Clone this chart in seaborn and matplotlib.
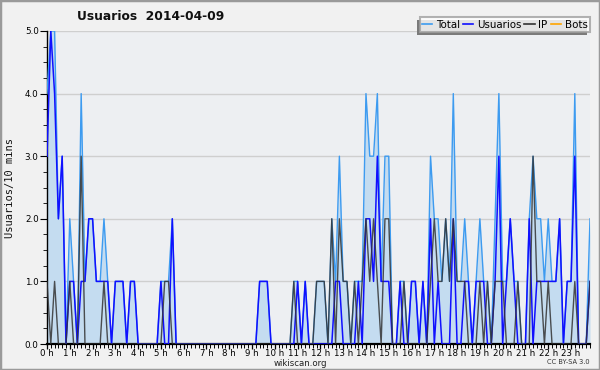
import numpy as np
import pandas as pd
import matplotlib
matplotlib.use("Agg")
import matplotlib.pyplot as plt
import seaborn as sns
from matplotlib.lines import Line2D
from matplotlib.patches import Rectangle
from matplotlib.ticker import MultipleLocator, FixedLocator

# ---- data: one value per 10-minute slot (144 slots) ----
usuarios = [3, 5, 4, 2, 3, 0, 1, 1, 0, 1, 1, 2, 2, 1, 1, 1, 1, 0, 1, 1, 1, 0, 1, 1,
            0, 0, 0, 0, 0, 0, 1, 0, 0, 2, 0, 0, 0, 0, 0, 0, 0, 0, 0, 0, 0, 0, 0, 0,
            0, 0, 0, 0, 0, 0, 0, 0, 1, 1, 1, 0, 0, 0, 0, 0, 0, 0, 1, 0, 1, 0, 0, 0,
            0, 0, 0, 0, 1, 1, 0, 0, 0, 0, 1, 0, 2, 2, 1, 3, 1, 1, 1, 0, 0, 1, 0, 0,
            1, 1, 0, 1, 0, 2, 0, 1, 0, 0, 0, 2, 0, 0, 1, 1, 0, 1, 1, 1, 0, 0, 1, 3,
            0, 1, 2, 1, 0, 0, 0, 2, 0, 1, 1, 1, 1, 1, 1, 2, 0, 1, 1, 3, 0, 0, 0, 1]
ip = [1, 0, 1, 0, 0, 0, 1, 0, 0, 3, 0, 0, 0, 0, 0, 1, 0, 0, 0, 0, 0, 0, 0, 0,
      0, 0, 0, 0, 0, 0, 0, 1, 1, 0, 0, 0, 0, 0, 0, 0, 0, 0, 0, 0, 0, 0, 0, 0,
      0, 0, 0, 0, 0, 0, 0, 0, 0, 0, 0, 0, 0, 0, 0, 0, 0, 1, 0, 0, 0, 0, 0, 1,
      1, 1, 0, 2, 0, 2, 1, 1, 0, 1, 0, 1, 2, 1, 2, 1, 0, 2, 2, 0, 0, 0, 1, 0,
      0, 0, 0, 0, 0, 1, 2, 1, 1, 2, 1, 2, 1, 1, 1, 0, 0, 0, 1, 0, 1, 0, 1, 1,
      1, 0, 0, 0, 1, 0, 0, 0, 3, 1, 1, 0, 1, 0, 0, 0, 0, 0, 0, 1, 0, 0, 0, 1]
total = [4, 5, 5, 2, 3, 0, 2, 1, 0, 4, 1, 2, 2, 1, 1, 2, 1, 0, 1, 1, 1, 0, 1, 1,
         0, 0, 0, 0, 0, 0, 1, 1, 1, 2, 0, 0, 0, 0, 0, 0, 0, 0, 0, 0, 0, 0, 0, 0,
         0, 0, 0, 0, 0, 0, 0, 0, 1, 1, 1, 0, 0, 0, 0, 0, 0, 1, 1, 0, 1, 0, 0, 1,
         1, 1, 0, 2, 1, 3, 1, 1, 0, 1, 1, 1, 4, 3, 3, 4, 1, 3, 3, 0, 0, 1, 1, 0,
         1, 1, 0, 1, 0, 3, 2, 2, 1, 2, 1, 4, 1, 1, 2, 1, 0, 1, 2, 1, 1, 0, 2, 4,
         1, 1, 2, 1, 1, 0, 0, 2, 3, 2, 2, 1, 2, 1, 1, 2, 0, 1, 1, 4, 0, 0, 0, 2]
bots = [0, 0, 0, 0, 0, 0, 0, 0, 0, 0, 0, 0, 0, 0, 0, 0, 0, 0, 0, 0, 0, 0, 0, 0,
        0, 0, 0, 0, 0, 0, 0, 0, 0, 0, 0, 0, 0, 0, 0, 0, 0, 0, 0, 0, 0, 0, 0, 0,
        0, 0, 0, 0, 0, 0, 0, 0, 0, 0, 0, 0, 0, 0, 0, 0, 0, 0, 0, 0, 0, 0, 0, 0,
        0, 0, 0, 0, 0, 0, 0, 0, 0, 0, 0, 0, 0, 0, 0, 0, 0, 0, 0, 0, 0, 0, 0, 0,
        0, 0, 0, 0, 0, 0, 0, 0, 0, 0, 0, 0, 0, 0, 0, 0, 0, 0, 0, 0, 0, 0, 0, 0,
        0, 0, 0, 0, 0, 0, 0, 0, 0, 0, 0, 0, 0, 0, 0, 0, 0, 0, 0, 0, 0, 0, 0, 0]
hour_labels = ["0 h", "1 h", "2 h", "3 h", "4 h", "5 h", "6 h", "7 h", "8 h", "9 h",
               "10 h", "11 h", "12 h", "13 h", "14 h", "15 h", "16 h", "17 h", "18 h",
               "19 h", "20 h", "21 h", "22 h", "23 h"]
y_labels = ["0.0", "1.0", "2.0", "3.0", "4.0", "5.0"]
series_names = ["Total", "Usuarios", "IP", "Bots"]

C_TOTAL = "#3d9bf0"
C_USU = "#1010ff"
C_IP = "#333333"
C_BOTS = "#ffa500"
C_FILL = "#c4dcf0"

slots = np.arange(len(total))
df = pd.DataFrame({"slot": slots, "Total": total, "Usuarios": usuarios,
                   "IP": ip, "Bots": bots})

fig = plt.figure(figsize=(6.0, 3.7), dpi=100, facecolor="#f1f1f1")
fig.patches.append(Rectangle((0, 0), 1, 1, transform=fig.transFigure,
                             fill=False, edgecolor="#9a9a9a", linewidth=2.5))
ax = fig.add_axes([47 / 600, 26 / 370, 543 / 600, 313 / 370])
ax.set_facecolor("#edeff2")

for v in [1, 2, 3, 4, 5]:
    ax.axhline(v, color="#cfcfcf", lw=1.0, zorder=0.5)

ax.fill_between(df["slot"], 0, df["Total"], color=C_FILL, lw=0, zorder=1)
sns.lineplot(data=df, x="slot", y="Total", ax=ax, color=C_TOTAL, lw=1.0, zorder=3)
sns.lineplot(data=df, x="slot", y="Usuarios", ax=ax, color=C_USU, lw=1.1, zorder=4)
sns.lineplot(data=df, x="slot", y="IP", ax=ax, color=C_IP, lw=1.0, alpha=0.85, zorder=5)
sns.lineplot(data=df, x="slot", y="Bots", ax=ax, color=C_BOTS, lw=1.0, zorder=2)

ax.set_xlim(0, len(total) - 1)
ax.set_ylim(0, 5)
ax.set_xlabel("")
ax.set_ylabel("")

for s in ["top", "right"]:
    ax.spines[s].set_visible(False)
ax.spines["bottom"].set_color("black")
ax.spines["bottom"].set_linewidth(1.6)
ax.spines["left"].set_color("black")
ax.spines["left"].set_linewidth(1.0)

ax.xaxis.set_major_locator(FixedLocator(list(range(0, 144, 6))))
ax.set_xticklabels(hour_labels)
ax.xaxis.set_minor_locator(MultipleLocator(1))
ax.yaxis.set_major_locator(FixedLocator([0, 1, 2, 3, 4, 5]))
ax.set_yticklabels(y_labels)
ax.yaxis.set_minor_locator(MultipleLocator(0.25))
ax.tick_params(axis="x", which="major", length=3.5, width=0.9, labelsize=6.2, pad=0.2, color="black")
ax.tick_params(axis="x", which="minor", length=3, width=0.7, color="black")
ax.tick_params(axis="y", which="major", length=5, width=0.8, labelsize=6.3, pad=1, color="black")
ax.tick_params(axis="y", which="minor", length=3, width=0.6, color="black")

fig.text(151 / 600, 1 - 16 / 370, "Usuarios  2014-04-09", ha="center", va="center",
         fontsize=8.8, fontweight="bold", color="#111111")
fig.text(10 / 600, 1 - 188 / 370, "Usuarios/10 mins", rotation=90, ha="center",
         va="center", fontsize=7.5, family="DejaVu Sans Mono", color="#111111")
fig.text(300 / 600, 1 - 363 / 370, "wikiscan.org", ha="center", va="center",
         fontsize=6.2, color="#222222")
fig.text(568 / 600, 1 - 362 / 370, "CC BY-SA 3.0", ha="center", va="center",
         fontsize=4.8, color="#333333")

# legend
handles = [Line2D([], [], color=c, lw=1.2) for c in [C_TOTAL, C_USU, C_IP, C_BOTS]]
leg = fig.legend(handles, series_names, loc="upper right",
                 bbox_to_anchor=(590 / 600, 1 - 17 / 370), ncol=4, fontsize=7.4,
                 frameon=True, fancybox=False, handlelength=1.0, handletextpad=0.35,
                 columnspacing=0.3, borderpad=0.25, borderaxespad=0)
leg.get_frame().set_facecolor("white")
leg.get_frame().set_edgecolor("#a0a0a0")
leg.get_frame().set_linewidth(1.5)
leg.set_zorder(6)

# shadow offset to the lower-left of the legend box
fig.canvas.draw()
bb = leg.get_window_extent().transformed(fig.transFigure.inverted())
fig.patches.append(Rectangle((bb.x0 - 3 / 600, bb.y0 - 3 / 370), bb.width, bb.height,
                             transform=fig.transFigure, facecolor="#7a7a7a",
                             edgecolor="none", zorder=5))

fig.savefig("out.png", dpi=100, facecolor=fig.get_facecolor())
